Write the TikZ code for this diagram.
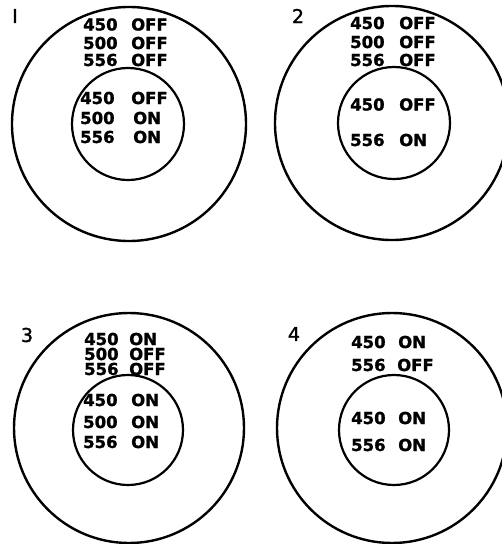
\documentclass[tikz,border=0pt]{standalone}
\usepackage{fontspec}
\newfontfamily\lettering[FakeBold=1.2]{DejaVu Sans Bold}
\newfontfamily\numbering[FakeBold=1.5]{DejaVu Sans}
\begin{document}
\begin{tikzpicture}[x=1pt,y=-1pt,
  outerring/.style={draw, circle, line width=2.4pt, inner sep=0pt, minimum size=#1},
  innerring/.style={draw, circle, line width=2.2pt, inner sep=0pt, minimum size=#1},
  lbl/.style={anchor=west, inner sep=0pt, font=\lettering\fontsize{16.5}{16.5}\selectfont},
  panelno/.style={anchor=center, inner sep=0pt, font=\numbering\fontsize{19}{19}\selectfont}]
\useasboundingbox (0,0) rectangle (502,544);
\clip (0,0) rectangle (502,544);
% Panel 1
\node[outerring=234pt] (o1) at (129,124) {};
\node[innerring=112pt] (i1) at (128,124) {};
\node[panelno] (p1) at (15,16) {I};
\node[lbl] (a1n1) at (83,24.5) {450}; \node[lbl] (a1s1) at (131,24.5) {OFF};
\node[lbl] (a1n2) at (83,43) {500}; \node[lbl] (a1s2) at (131,43) {OFF};
\node[lbl] (a1n3) at (83,60) {556}; \node[lbl] (a1s3) at (131,60) {OFF};
\node[lbl] (b1n1) at (80,98) {450}; \node[lbl] (b1s1) at (131,98) {OFF};
\node[lbl] (b1n2) at (80,118) {500}; \node[lbl] (b1s2) at (133,118) {ON};
\node[lbl] (b1n3) at (80,137) {556}; \node[lbl] (b1s3) at (133,137) {ON};
% Panel 2
\node[outerring=234pt] (o2) at (392,123) {};
\node[innerring=112pt] (i2) at (394,123) {};
\node[panelno] (p2) at (298,16) {2};
\node[lbl] (a2n1) at (350,23) {450}; \node[lbl] (a2s1) at (399,23) {OFF};
\node[lbl] (a2n2) at (350,42) {500}; \node[lbl] (a2s2) at (399,42) {OFF};
\node[lbl] (a2n3) at (350,60) {556}; \node[lbl] (a2s3) at (399,60) {OFF};
\node[lbl] (b2n1) at (350,104.5) {450}; \node[lbl] (b2s1) at (399,104.5) {OFF};
\node[lbl] (b2n2) at (350,140) {556}; \node[lbl] (b2s2) at (399,140) {ON};
% Panel 3
\node[outerring=230pt] (o3) at (129,428) {};
\node[innerring=110pt] (i3) at (128,430) {};
\node[panelno] (p3) at (27,335) {3};
\node[lbl] (a3n1) at (84,339) {450}; \node[lbl] (a3s1) at (129,339) {ON};
\node[lbl] (a3n2) at (84,354) {500}; \node[lbl] (a3s2) at (129,354) {OFF};
\node[lbl] (a3n3) at (84,369) {556}; \node[lbl] (a3s3) at (129,369) {OFF};
\node[lbl] (b3n1) at (83,400) {450}; \node[lbl] (b3s1) at (131,400) {ON};
\node[lbl] (b3n2) at (83,422) {500}; \node[lbl] (b3s2) at (131,422) {ON};
\node[lbl] (b3n3) at (83,442) {556}; \node[lbl] (b3s3) at (131,442) {ON};
% Panel 4
\node[outerring=230pt] (o4) at (392,428) {};
\node[innerring=110pt] (i4) at (394,430) {};
\node[panelno] (p4) at (294,334) {4};
\node[lbl] (a4n1) at (351,342) {450}; \node[lbl] (a4s1) at (398,342) {ON};
\node[lbl] (a4n2) at (351,365) {556}; \node[lbl] (a4s2) at (397,365) {OFF};
\node[lbl] (b4n1) at (351,418) {450}; \node[lbl] (b4s1) at (398,418) {ON};
\node[lbl] (b4n2) at (351,445) {556}; \node[lbl] (b4s2) at (398,445) {ON};
\end{tikzpicture}
\end{document}
